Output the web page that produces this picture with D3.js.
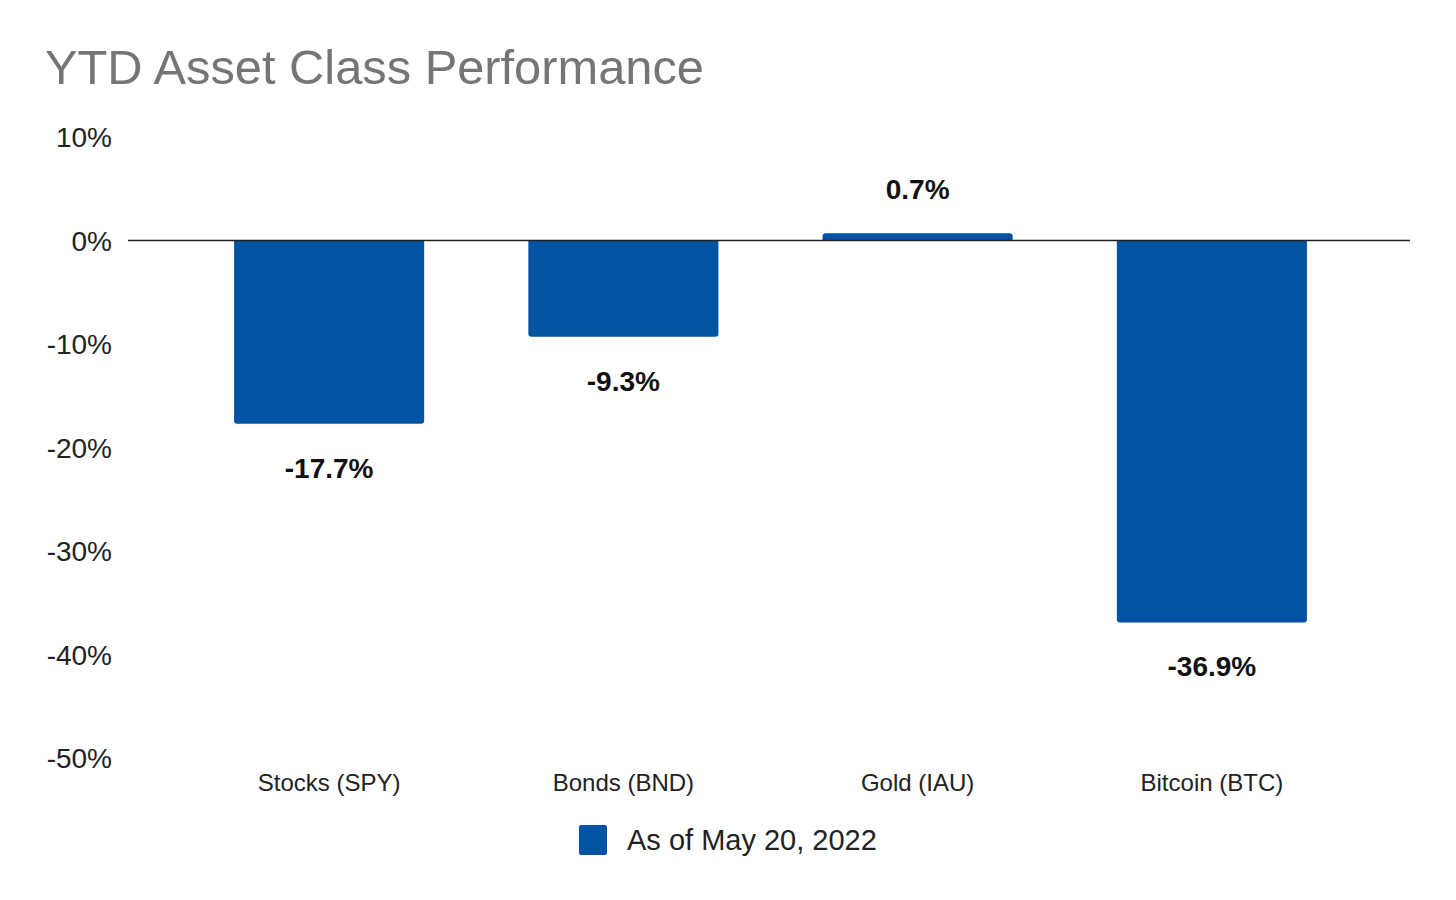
<!DOCTYPE html>
<html><head><meta charset="utf-8">
<script src="https://cdn.jsdelivr.net/npm/d3@7"></script>
<style>body{margin:0;background:#fff}svg{display:block}text{font-family:"Liberation Sans",Arial,sans-serif}</style>
</head><body>
<script>
const categories = ["Stocks (SPY)", "Bonds (BND)", "Gold (IAU)", "Bitcoin (BTC)"];
const values = [-17.7, -9.3, 0.7, -36.9];
const labels = ["-17.7%", "-9.3%", "0.7%", "-36.9%"];
const yTicks = [10, 0, -10, -20, -30, -40, -50];
const seriesName = "As of May 20, 2022";
const title = "YTD Asset Class Performance";

const W = 1456, H = 900, color = "#0353a5";
const svg = d3.select("body").append("svg").attr("width", W).attr("height", H);

svg.append("text").attr("x", 45).attr("y", 84).attr("font-size", 48.8).attr("fill", "#757575").text(title);

const y = d3.scaleLinear().domain([-50, 10]).range([758, 137]);
const x = d3.scaleBand().domain(categories).range([182, 1359]).paddingInner(0.354).paddingOuter(0.177);

const yAxis = svg.append("g").attr("transform", "translate(112,0)")
  .call(d3.axisLeft(y).tickValues(yTicks).tickSize(0).tickPadding(0).tickFormat(d => d + "%"));
yAxis.select(".domain").remove();
yAxis.selectAll("text").attr("font-size", 28).attr("fill", "#222").attr("dy", "0.35em")
  .style("font-family", '"Liberation Sans",Arial,sans-serif');

const r = 3;
function barPath(d, i) {
  const x0 = x(categories[i]), w = x.bandwidth();
  const y0 = y(0), y1 = y(d);
  if (d >= 0) {
    return `M${x0},${y0}V${y1 + r}Q${x0},${y1} ${x0 + r},${y1}H${x0 + w - r}Q${x0 + w},${y1} ${x0 + w},${y1 + r}V${y0}Z`;
  } else {
    return `M${x0},${y0}V${y1 - r}Q${x0},${y1} ${x0 + r},${y1}H${x0 + w - r}Q${x0 + w},${y1} ${x0 + w},${y1 - r}V${y0}Z`;
  }
}
svg.append("g").selectAll("path").data(values).join("path")
  .attr("d", barPath).attr("fill", color);

svg.append("line").attr("x1", 128).attr("x2", 1410).attr("y1", y(0)).attr("y2", y(0))
  .attr("stroke", "#222").attr("stroke-width", 1.5);

svg.append("g").selectAll("text").data(values).join("text")
  .attr("x", (d, i) => x(categories[i]) + x.bandwidth() / 2)
  .attr("y", d => d >= 0 ? y(d) - 34 : y(d) + 54)
  .attr("text-anchor", "middle").attr("font-size", 28).attr("font-weight", "bold").attr("fill", "#111")
  .text((d, i) => labels[i]);

const xAxis = svg.append("g").attr("transform", "translate(0,791)")
  .call(d3.axisBottom(x).tickSize(0).tickPadding(0));
xAxis.select(".domain").remove();
xAxis.selectAll("text").attr("font-size", 24).attr("fill", "#222").attr("dy", 0)
  .style("font-family", '"Liberation Sans",Arial,sans-serif');

const lg = svg.append("g");
lg.append("rect").attr("x", 579).attr("y", 825).attr("width", 28).attr("height", 30).attr("rx", 2).attr("fill", color);
lg.append("text").attr("x", 627).attr("y", 850).attr("font-size", 29).attr("fill", "#222").text(seriesName);
</script>
</body></html>
